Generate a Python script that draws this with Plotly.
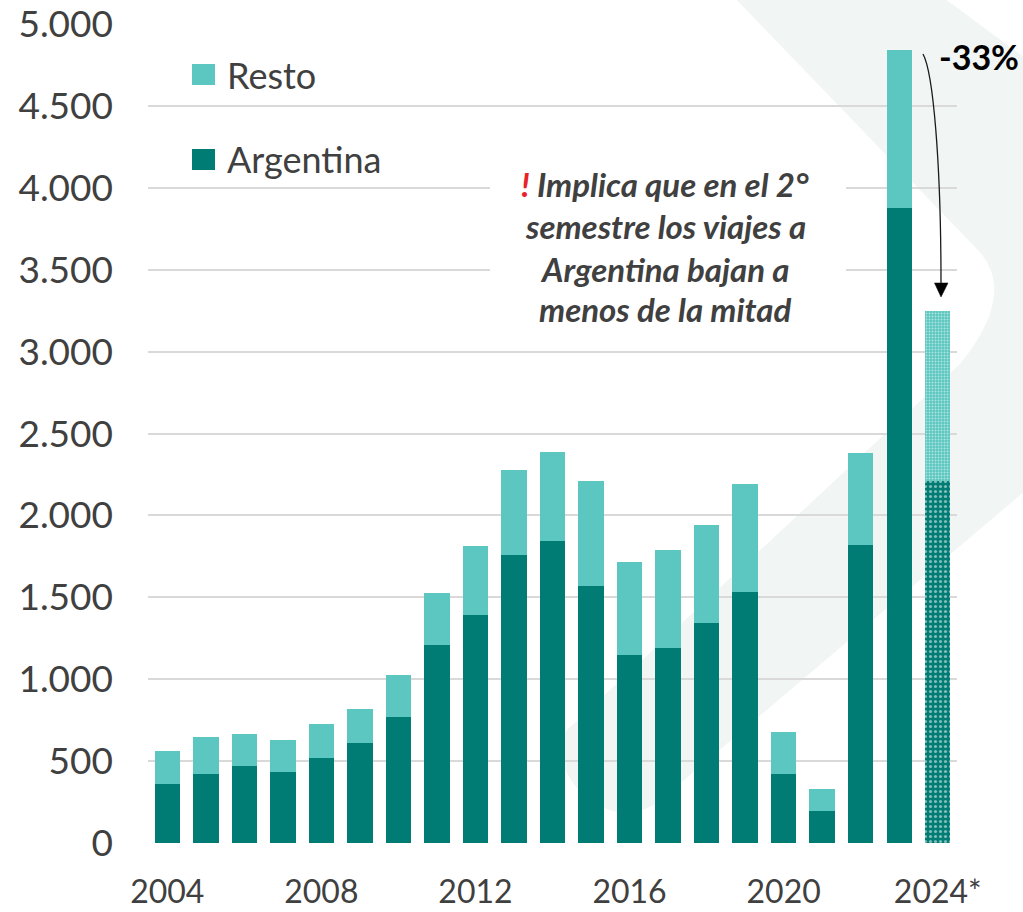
import plotly.graph_objects as go

# ---------------- data ----------------
years = ["2004", "2005", "2006", "2007", "2008", "2009", "2010", "2011", "2012", "2013",
         "2014", "2015", "2016", "2017", "2018", "2019", "2020", "2021", "2022", "2023", "2024*"]
total = [564, 650, 664, 631, 729, 820, 1024, 1529, 1811, 2277,
         2389, 2212, 1714, 1787, 1944, 2194, 678, 328, 2381, 4840, 3246]
argentina = [363, 421, 468, 436, 521, 613, 769, 1209, 1392, 1759,
             1846, 1571, 1150, 1191, 1342, 1532, 422, 198, 1818, 3877, 2210]
resto = [t - a for t, a in zip(total, argentina)]
tick_vals = ["2004", "2008", "2012", "2016", "2020", "2024*"]
tick_text = ["2004", "2008", "2012", "2016", "2020", "2024*"]
pattern_shape = [""] * 20 + ["."]

C_ARG = "#007C74"
C_RES = "#5BC7C0"
TXT = "#404040"

# ---------------- geometry helpers (layout only) ----------------
W, H = 1023, 912
L, R, T, B = 148, 66, 24, 69
PW, PH = W - L - R, H - T - B


def px(x):
    return (x - L) / PW


def py(y):
    return (T + PH - y) / PH


fig = go.Figure()
fig.add_trace(go.Bar(
    x=years, y=argentina, name="Argentina", showlegend=False,
    marker=dict(color=C_ARG, line=dict(width=0),
                pattern=dict(shape=pattern_shape, fillmode="overlay", fgcolor="white",
                             size=5, solidity=0.3)),
))
fig.add_trace(go.Bar(
    x=years, y=resto, name="Resto", showlegend=False,
    marker=dict(color=C_RES, line=dict(width=0),
                pattern=dict(shape=pattern_shape, fillmode="overlay", fgcolor="white",
                             size=3, solidity=0.35)),
))

shapes = []
# background chevron
path = ("M {},{} L {},{} Q {},{} {},{} L {},{} C {},{} {},{} {},{} L {},{} L {},{} L {},{} Z").format(
    px(727), py(-10), px(975), py(247),
    px(1020), py(290), px(960), py(364),
    px(567), py(730),
    px(540), py(760), px(600), py(840), px(657), py(803),
    px(1150), py(385), px(1150), py(150), px(933), py(-10))
shapes.append(dict(type="path", xref="paper", yref="paper", path=path,
                   fillcolor="#F1F5F4", line=dict(width=0), layer="below"))
# white box behind the note
shapes.append(dict(type="rect", xref="paper", yref="paper",
                   x0=px(490), x1=px(846), y0=py(335), y1=py(160),
                   fillcolor="white", line=dict(width=0), layer="above"))
# legend squares
shapes.append(dict(type="rect", xref="paper", yref="paper",
                   x0=px(192), x1=px(215), y0=py(85), y1=py(64),
                   fillcolor=C_RES, line=dict(width=0), layer="above"))
shapes.append(dict(type="rect", xref="paper", yref="paper",
                   x0=px(192), x1=px(215), y0=py(170), y1=py(149),
                   fillcolor=C_ARG, line=dict(width=0), layer="above"))
# curved arrow
arrow = "M {},{} C {},{} {},{} {},{}".format(px(923), py(54), px(933), py(72),
                                            px(941), py(160), px(941), py(284))
shapes.append(dict(type="path", xref="paper", yref="paper", path=arrow,
                   line=dict(color="#1a1a1a", width=1.3), layer="above"))
head = "M {},{} L {},{} L {},{} Z".format(px(934.5), py(283), px(948), py(283), px(941), py(297))
shapes.append(dict(type="path", xref="paper", yref="paper", path=head,
                   fillcolor="black", line=dict(color="black", width=0.5), layer="above"))

ann = []
ann.append(dict(xref="paper", yref="paper", x=px(225), y=py(75), xanchor="left", yanchor="middle",
                text="Resto", showarrow=False, font=dict(family="Lato", size=36, color=TXT)))
ann.append(dict(xref="paper", yref="paper", x=px(225), y=py(159), xanchor="left", yanchor="middle",
                text="Argentina", showarrow=False, font=dict(family="Lato", size=36, color=TXT)))
note_lines = ["<span style='color:#E8222B'>!</span> Implica que en el 2°",
              "semestre los viajes a",
              "Argentina bajan a",
              "menos de la mitad"]
note_y = [184, 226, 269, 309]
for txt, yy in zip(note_lines, note_y):
    ann.append(dict(xref="paper", yref="paper", x=px(665), y=py(yy), xanchor="center",
                    yanchor="middle", text="<b><i>" + txt + "</i></b>", showarrow=False,
                    font=dict(family="Lato", size=33, color=TXT)))
ann.append(dict(xref="paper", yref="paper", x=px(1021), y=py(57), xanchor="right", yanchor="middle",
                text="<b>-33%</b>", showarrow=False, font=dict(family="Lato", size=34, color="black")))

fig.update_layout(
    width=W, height=H,
    margin=dict(l=L, r=R, t=T, b=B, autoexpand=False),
    barmode="stack", bargap=0.34,
    paper_bgcolor="white", plot_bgcolor="rgba(0,0,0,0)",
    separators=",.",
    showlegend=False,
    shapes=shapes, annotations=ann,
    xaxis=dict(type="category", categoryorder="array", categoryarray=years,
               tickvals=tick_vals, ticktext=tick_text, showgrid=False, showline=False,
               ticks="", ticklabelstandoff=27, automargin=False,
               tickfont=dict(family="Lato", size=32, color=TXT)),
    yaxis=dict(range=[0, 5001], dtick=500, tickformat=",.0f", showgrid=True,
               gridcolor="#D9D9D9", gridwidth=2, zeroline=False, showline=False,
               ticks="", ticklabelstandoff=34, automargin=False, ticklabeloverflow="allow",
               tickfont=dict(family="Lato", size=37, color=TXT)),
)

fig.write_html("out.html", config={"displayModeBar": False},
               post_script="document.body.style.margin='0';document.body.style.overflow='hidden';")
